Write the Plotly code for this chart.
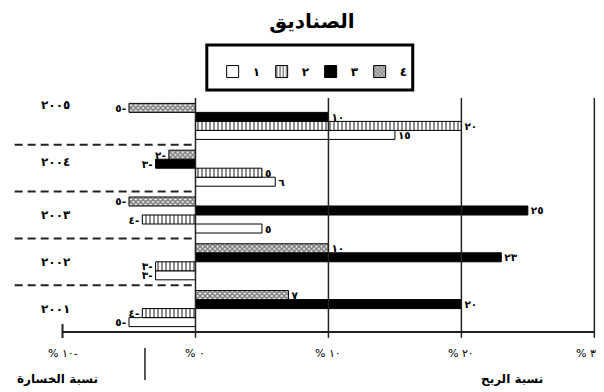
import plotly.graph_objects as go

# ---------------- data ----------------
years = ["٢٠٠١", "٢٠٠٢", "٢٠٠٣", "٢٠٠٤", "٢٠٠٥"]          # bottom -> top
series_names = ["١", "٢", "٣", "٤"]
s1 = [-5, -3, 5, 6, 15]
s2 = [-4, -3, -4, 5, 20]
s3 = [20, 23, 25, -3, 10]
s4 = [7, 10, -5, -2, -5]
x_tick_vals = [-10, 0, 10, 20, 30]
x_tick_text = ["% ١٠-", "% ٠", "% ١٠", "% ٢٠", "% ٣"]
title_text = "الصناديق"
loss_label = "نسبة الخسارة"
profit_label = "نسبة الربح"

AR_DIGITS = "٠١٢٣٤٥٦٧٨٩"


def ar_num(v):
    s = "".join(AR_DIGITS[int(c)] for c in str(abs(int(v))))
    return s + ("-" if v < 0 else "")


FONT = "DejaVu Sans"

styles = [
    dict(color="white", pattern=None),
    dict(color="white", pattern=dict(shape="|", size=4, solidity=0.45, fgcolor="black", bgcolor="white")),
    dict(color="black", pattern=None),
    dict(color="white", pattern=dict(shape="x", size=3.5, solidity=0.7, fgcolor="black", bgcolor="white")),
]

fig = go.Figure()
for name, vals, st in zip(series_names, [s1, s2, s3, s4], styles):
    marker = dict(color=st["color"], line=dict(color="black", width=1))
    if st["pattern"]:
        marker["pattern"] = st["pattern"]
    fig.add_trace(go.Bar(
        y=years, x=vals, orientation="h", name=name,
        marker=marker,
        text=[ar_num(v) for v in vals],
        textposition="outside",
        textfont=dict(family=FONT, size=10.5, color="black", weight="bold"),
        constraintext="none",
        cliponaxis=False,
    ))

shapes = []
# vertical grid lines
for v in [0, 10, 20, 30]:
    shapes.append(dict(type="line", xref="x", yref="paper", x0=v, x1=v, y0=-0.025, y1=1.0,
                       line=dict(color="#222", width=1.5)))
# x axis line and -10 tick
shapes.append(dict(type="line", xref="x", yref="paper", x0=-10, x1=30, y0=0, y1=0,
                   line=dict(color="#222", width=2)))
shapes.append(dict(type="line", xref="x", yref="paper", x0=-10, x1=-10, y0=-0.026, y1=0.034,
                   line=dict(color="#222", width=2)))
# dashed separators between year groups
for i in range(len(years) - 1):
    shapes.append(dict(type="line", xref="x", yref="y", x0=-13.6, x1=0, y0=i + 0.5, y1=i + 0.5,
                       line=dict(color="#222", width=2, dash="8px,5px")))
# separator under the axis
shapes.append(dict(type="line", xref="x", yref="paper", x0=-3.8, x1=-3.8, y0=-0.068, y1=-0.205,
                   line=dict(color="#222", width=1.5)))
# legend box
shapes.append(dict(type="rect", xref="paper", yref="paper", x0=0.333, x1=0.685, y0=1.034, y1=1.226,
                   line=dict(color="black", width=3), fillcolor="rgba(0,0,0,0)"))

annotations = []
for i, yr in enumerate(years):
    annotations.append(dict(x=-10.5, y=yr, xref="x", yref="y", text=yr, showarrow=False,
                            xanchor="center", yanchor="middle",
                            yshift=16 if i == len(years) - 1 else (6 if i == len(years) - 2 else 0),
                            font=dict(family=FONT, size=12, color="black", weight="bold")))
# x tick labels (drawn at the axis values)
for v, t in zip(x_tick_vals, x_tick_text):
    annotations.append(dict(x=v, y=-0.09, xref="x", yref="paper", text=t, showarrow=False,
                            xanchor="center", yanchor="middle",
                            xshift=-8 if v == x_tick_vals[-1] else 0,
                            font=dict(family=FONT, size=11, color="black")))
annotations.append(dict(x=-10.4, y=-0.2, xref="x", yref="paper", text=loss_label, showarrow=False,
                        xanchor="center", yanchor="middle",
                        font=dict(family=FONT, size=12, color="black", weight="bold")))
annotations.append(dict(x=23.8, y=-0.2, xref="x", yref="paper", text=profit_label, showarrow=False,
                        xanchor="center", yanchor="middle",
                        font=dict(family=FONT, size=12, color="black", weight="bold")))

# page has an 8px body margin, so the figure is 8px smaller than the window
fig.update_layout(
    width=596, height=384,
    margin=dict(l=4, r=7, t=90, b=60),
    paper_bgcolor="white", plot_bgcolor="white",
    barmode="group", bargap=0.23, bargroupgap=0,
    title=dict(text=title_text, x=0.51, y=0.966, xanchor="center", yanchor="middle",
               font=dict(family=FONT, size=20, color="black", weight="bold")),
    showlegend=True,
    legend=dict(orientation="h", x=0.343, y=1.175, xanchor="left", yanchor="top",
                entrywidth=4, entrywidthmode="pixels", bgcolor="rgba(0,0,0,0)",
                font=dict(family=FONT, size=12, color="black", weight="bold"),
                traceorder="normal"),
    xaxis=dict(range=[-13.8, 30.2], showticklabels=False,
               showgrid=False, zeroline=False, showline=False, ticks=""),
    yaxis=dict(type="category", categoryarray=years, range=[-0.5, 4.5],
               showticklabels=False, showgrid=False, zeroline=False, showline=False, ticks=""),
    shapes=shapes, annotations=annotations,
)

fig.write_html("out.html")
